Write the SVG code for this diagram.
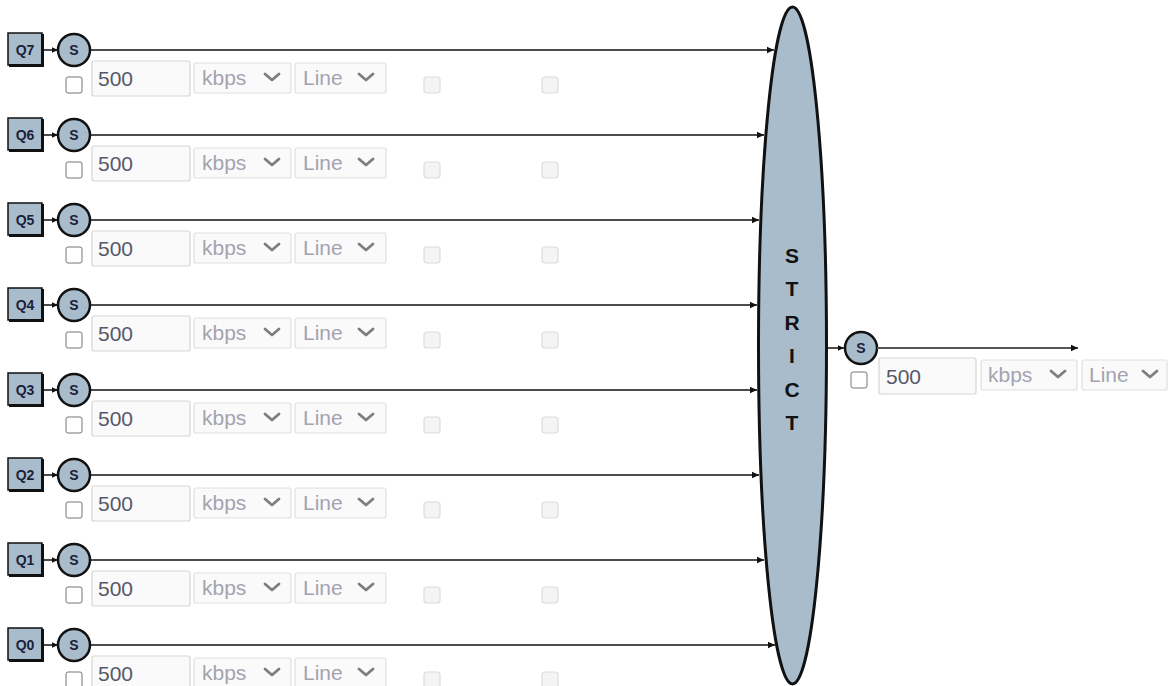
<svg xmlns="http://www.w3.org/2000/svg" xmlns:xlink="http://www.w3.org/1999/xlink" width="1169" height="686" viewBox="0 0 1169 686">
<style>
.qbox{fill:#a9bccc;stroke:#111;stroke-width:1.5}
.qsh{fill:none;stroke:#111;stroke-width:3}
.qtxt{font-family:"Liberation Sans",Arial,sans-serif;font-weight:bold;font-size:14px;fill:#1b1f3a;text-anchor:middle}
.sc{fill:#a9bccc;stroke:#111;stroke-width:2.5}
.stxt{font-family:"Liberation Sans",Arial,sans-serif;font-weight:bold;font-size:14px;fill:#1b1f3a;text-anchor:middle}
.ln{stroke:#111;stroke-width:1.5;fill:none}
.cb{fill:#fff;stroke:#767676;stroke-width:1}
.cbd{fill:#f4f4f4;stroke:#dcdcdc;stroke-width:1.2}
.inp{fill:#fafafa;stroke:#d6d6d6;stroke-width:1.2}
.sel{fill:#fafafa;stroke:#e0e0e0;stroke-width:1.2}
.itxt{font-family:"Liberation Sans",Arial,sans-serif;font-size:21px;fill:#56586a}
.stx{font-family:"Liberation Sans",Arial,sans-serif;font-size:21px;fill:#a3a3b0}
.chev{fill:none;stroke:#7e7e7e;stroke-width:2.8;stroke-linecap:round;stroke-linejoin:round}
.big{font-family:"Liberation Sans",Arial,sans-serif;font-weight:bold;font-size:21px;fill:#111;text-anchor:middle}
</style>
<defs>
<marker id="ah" markerUnits="userSpaceOnUse" markerWidth="8" markerHeight="8" refX="7" refY="4" orient="auto">
<path d="M0,0.8 L7,4 L0,7.2 Z" fill="#111"/>
</marker>
<marker id="ahs" markerUnits="userSpaceOnUse" markerWidth="7" markerHeight="7" refX="6" refY="3.5" orient="auto">
<path d="M0,0.8 L6,3.5 L0,6.2 Z" fill="#111"/>
</marker>
<g id="ctrl">
<rect class="cb" x="66" y="27" width="16" height="16" rx="2"/>
<rect class="inp" x="92" y="11" width="98" height="35" rx="2"/>
<text class="itxt" x="98" y="36">500</text>
<rect class="sel" x="194" y="13" width="97" height="30" rx="2"/>
<text class="stx" x="202" y="35">kbps</text>
<polyline class="chev" points="265,24 272,30 279,24"/>
<rect class="sel" x="295" y="13" width="91" height="30" rx="2"/>
<text class="stx" x="303" y="35">Line</text>
<polyline class="chev" points="359,24 366,30 373,24"/>
<rect class="cbd" x="424" y="27" width="16" height="16" rx="3"/>
<rect class="cbd" x="542" y="27" width="16" height="16" rx="3"/>
</g>
<g id="qhead">
<rect class="qbox" x="8" y="-17" width="34" height="32"/>
<polyline class="qsh" points="9,15.5 42.5,15.5 42.5,-16"/>
<circle class="sc" cx="74" cy="0" r="16"/>
<text class="stxt" x="74" y="5">S</text>
</g>
</defs>

<g id="strict">
<ellipse cx="792.5" cy="345.5" rx="34" ry="338.5" fill="#a9bccc" stroke="#111" stroke-width="3"/>
<text class="big" x="792" y="263">S</text>
<text class="big" x="792" y="296">T</text>
<text class="big" x="792" y="330">R</text>
<text class="big" x="792" y="363">I</text>
<text class="big" x="792" y="397">C</text>
<text class="big" x="792" y="430">T</text>
</g>

<g id="q7" transform="translate(0,50)"><use xlink:href="#qhead"/><text class="qtxt" x="25" y="5">Q7</text><use xlink:href="#ctrl"/></g>
<g id="q6" transform="translate(0,135)"><use xlink:href="#qhead"/><text class="qtxt" x="25" y="5">Q6</text><use xlink:href="#ctrl"/></g>
<g id="q5" transform="translate(0,220)"><use xlink:href="#qhead"/><text class="qtxt" x="25" y="5">Q5</text><use xlink:href="#ctrl"/></g>
<g id="q4" transform="translate(0,305)"><use xlink:href="#qhead"/><text class="qtxt" x="25" y="5">Q4</text><use xlink:href="#ctrl"/></g>
<g id="q3" transform="translate(0,390)"><use xlink:href="#qhead"/><text class="qtxt" x="25" y="5">Q3</text><use xlink:href="#ctrl"/></g>
<g id="q2" transform="translate(0,475)"><use xlink:href="#qhead"/><text class="qtxt" x="25" y="5">Q2</text><use xlink:href="#ctrl"/></g>
<g id="q1" transform="translate(0,560)"><use xlink:href="#qhead"/><text class="qtxt" x="25" y="5">Q1</text><use xlink:href="#ctrl"/></g>
<g id="q0" transform="translate(0,645)"><use xlink:href="#qhead"/><text class="qtxt" x="25" y="5">Q0</text><use xlink:href="#ctrl"/></g>

<g id="out">
<circle class="sc" cx="861" cy="348" r="16"/>
<text class="stxt" x="861" y="353">S</text>
<rect class="cb" x="851" y="372" width="16" height="16" rx="2"/>
<rect class="inp" x="879" y="358" width="97" height="36" rx="2"/>
<text class="itxt" x="886" y="384">500</text>
<rect class="sel" x="981" y="360" width="96" height="30" rx="2"/>
<text class="stx" x="988" y="382">kbps</text>
<polyline class="chev" points="1051,371 1058,377 1065,371"/>
<rect class="sel" x="1082" y="360" width="85" height="30" rx="2"/>
<text class="stx" x="1089" y="382">Line</text>
<polyline class="chev" points="1143,371 1150,377 1157,371"/>
</g>

<g id="connectors">
<line class="ln" x1="43" y1="50" x2="58" y2="50" marker-end="url(#ahs)"/>
<line class="ln" x1="43" y1="135" x2="58" y2="135" marker-end="url(#ahs)"/>
<line class="ln" x1="43" y1="220" x2="58" y2="220" marker-end="url(#ahs)"/>
<line class="ln" x1="43" y1="305" x2="58" y2="305" marker-end="url(#ahs)"/>
<line class="ln" x1="43" y1="390" x2="58" y2="390" marker-end="url(#ahs)"/>
<line class="ln" x1="43" y1="475" x2="58" y2="475" marker-end="url(#ahs)"/>
<line class="ln" x1="43" y1="560" x2="58" y2="560" marker-end="url(#ahs)"/>
<line class="ln" x1="43" y1="645" x2="58" y2="645" marker-end="url(#ahs)"/>
<line class="ln" x1="90" y1="50" x2="774" y2="50" marker-end="url(#ah)"/>
<line class="ln" x1="90" y1="135" x2="764" y2="135" marker-end="url(#ah)"/>
<line class="ln" x1="90" y1="220" x2="759" y2="220" marker-end="url(#ah)"/>
<line class="ln" x1="90" y1="305" x2="757" y2="305" marker-end="url(#ah)"/>
<line class="ln" x1="90" y1="390" x2="757" y2="390" marker-end="url(#ah)"/>
<line class="ln" x1="90" y1="475" x2="759" y2="475" marker-end="url(#ah)"/>
<line class="ln" x1="90" y1="560" x2="764" y2="560" marker-end="url(#ah)"/>
<line class="ln" x1="90" y1="645" x2="775" y2="645" marker-end="url(#ah)"/>
<line class="ln" x1="828" y1="348" x2="844" y2="348" marker-end="url(#ahs)"/>
<line x1="877" y1="348" x2="1078" y2="348" stroke="#555" stroke-width="2" marker-end="url(#ah)"/>
</g>
</svg>
